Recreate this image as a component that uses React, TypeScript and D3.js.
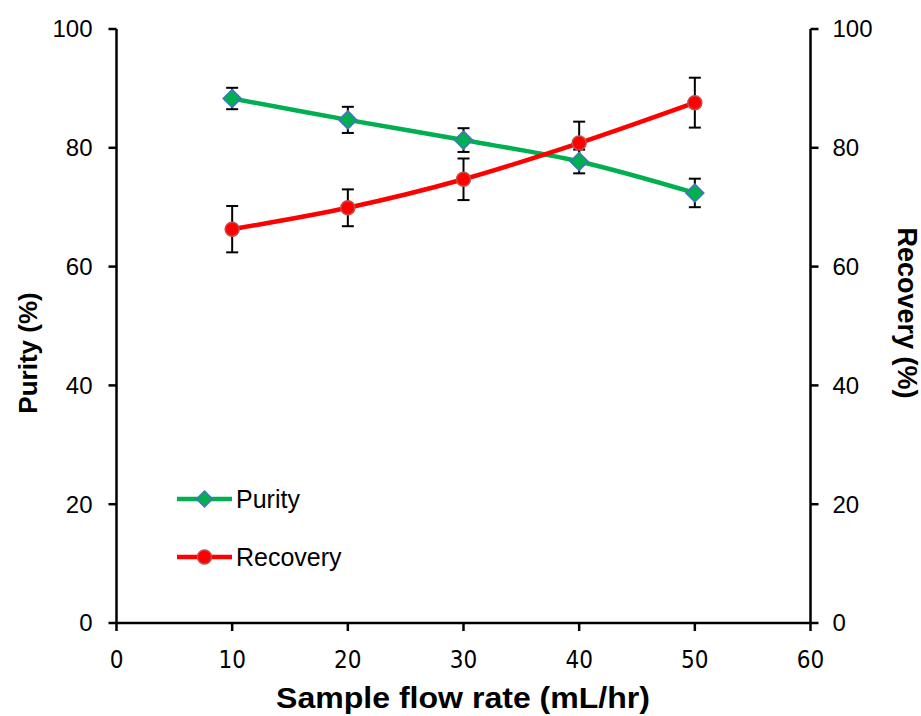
import React from "react";
import * as d3 from "d3";

const flowRates = [10, 20, 30, 40, 50];
const purity = [88.3, 84.7, 81.3, 77.7, 72.4];
const purityErr = [1.8, 2.2, 2.0, 2.0, 2.4];
const recovery = [66.3, 69.9, 74.7, 80.8, 87.6];
const recoveryErr = [3.9, 3.1, 3.5, 3.6, 4.2];
const xTicks = [0, 10, 20, 30, 40, 50, 60];
const yTicks = [0, 20, 40, 60, 80, 100];

const W = 921, H = 716;
const left = 116.5, right = 810.5, top = 29, bottom = 623;

export default function App() {
  const x = d3.scaleLinear().domain([0, 60]).range([left, right]);
  const y = d3.scaleLinear().domain([0, 100]).range([bottom, top]);
  const line = d3.line<[number, number]>().x(d => x(d[0])).y(d => y(d[1])).curve(d3.curveCatmullRom.alpha(0.5));
  const pData = flowRates.map((f, i) => [f, purity[i]] as [number, number]);
  const rData = flowRates.map((f, i) => [f, recovery[i]] as [number, number]);
  const narrow = "'Liberation Sans Narrow', 'DejaVu Sans Condensed', 'Arial Narrow', sans-serif";
  const sans = "'Liberation Sans', Arial, sans-serif";
  const diamond = (cx: number, cy: number, r: number) => `M${cx},${cy - r}L${cx + r},${cy}L${cx},${cy + r}L${cx - r},${cy}Z`;
  const errBar = (xv: number, v: number, e: number, key: string) => (
    <g key={key} stroke="#000" strokeWidth={2}>
      <line x1={x(xv)} x2={x(xv)} y1={y(v - e)} y2={y(v + e)} />
      <line x1={x(xv) - 6} x2={x(xv) + 6} y1={y(v - e)} y2={y(v - e)} />
      <line x1={x(xv) - 6} x2={x(xv) + 6} y1={y(v + e)} y2={y(v + e)} />
    </g>
  );
  return (
    <svg width={W} height={H} style={{ position: "absolute", left: 0, top: 0 }}>
      <rect width={W} height={H} fill="#fff" />
      <g stroke="#000" strokeWidth={2.5}>
        <line x1={left} x2={left} y1={top} y2={bottom} />
        <line x1={right} x2={right} y1={top} y2={bottom} />
        <line x1={left} x2={right} y1={bottom} y2={bottom} />
        {yTicks.map(t => (
          <g key={"yt" + t}>
            <line x1={left - 8} x2={left} y1={y(t)} y2={y(t)} />
            <line x1={right} x2={right + 8} y1={y(t)} y2={y(t)} />
          </g>
        ))}
        {xTicks.map(t => (
          <line key={"xt" + t} x1={x(t)} x2={x(t)} y1={bottom} y2={bottom + 8} />
        ))}
      </g>
      {yTicks.map(t => (
        <g key={"yl" + t} fontFamily={sans} fontSize={24} fill="#000">
          <text x={left - 24} y={y(t)} dy="0.35em" textAnchor="end">{t}</text>
          <text x={right + 22} y={y(t)} dy="0.35em" textAnchor="start">{t}</text>
        </g>
      ))}
      {xTicks.map(t => (
        <text key={"xl" + t} x={x(t)} y={668} textAnchor="middle" fontFamily={narrow} fontSize={24} fill="#000">{t}</text>
      ))}
      <text x={463} y={708} textAnchor="middle" fontFamily={sans} fontWeight="bold" fontSize={30} textLength={374} lengthAdjust="spacingAndGlyphs" fill="#000">Sample flow rate (mL/hr)</text>
      <text transform={`translate(37,353) rotate(-90)`} textAnchor="middle" fontFamily={sans} fontWeight="bold" fontSize={26} fill="#000">Purity (%)</text>
      <text transform={`translate(898,313) rotate(90)`} textAnchor="middle" fontFamily={sans} fontWeight="bold" fontSize={27} fill="#000">Recovery (%)</text>
      <path d={line(pData) || ""} fill="none" stroke="#00B050" strokeWidth={4.5} />
      <path d={line(rData) || ""} fill="none" stroke="#FF0000" strokeWidth={4.5} />
      {flowRates.map((f, i) => errBar(f, purity[i], purityErr[i], "pe" + i))}
      {flowRates.map((f, i) => errBar(f, recovery[i], recoveryErr[i], "re" + i))}
      {pData.map((d, i) => (
        <path key={"pm" + i} d={diamond(x(d[0]), y(d[1]), 9)} fill="#00B050" stroke="#4472C4" strokeWidth={1.5} />
      ))}
      {rData.map((d, i) => (
        <circle key={"rm" + i} cx={x(d[0])} cy={y(d[1])} r={7} fill="#FF0000" stroke="#C0504D" strokeWidth={1.5} />
      ))}
      <g>
        <line x1={177} x2={232} y1={499} y2={499} stroke="#00B050" strokeWidth={4.5} />
        <path d={diamond(204.5, 499, 8)} fill="#00B050" stroke="#4472C4" strokeWidth={1.5} />
        <text x={236} y={499} dy="0.35em" fontFamily={sans} fontSize={25} fill="#000">Purity</text>
        <line x1={177} x2={232} y1={557} y2={557} stroke="#FF0000" strokeWidth={4.5} />
        <circle cx={204.5} cy={557} r={7} fill="#FF0000" stroke="#C0504D" strokeWidth={1.5} />
        <text x={236} y={557} dy="0.35em" fontFamily={sans} fontSize={25} fill="#000">Recovery</text>
      </g>
    </svg>
  );
}
